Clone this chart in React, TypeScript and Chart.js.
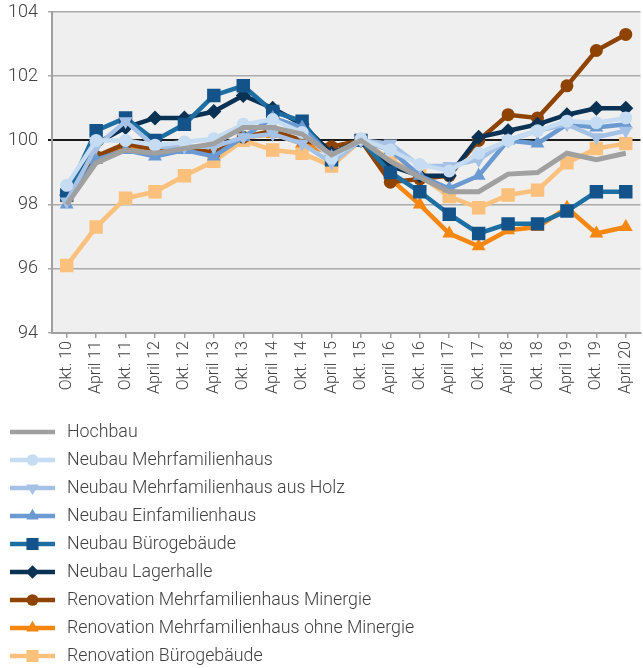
import React, { useEffect, useRef } from "react";
import { Chart, registerables } from "chart.js";
import { drawPoint } from "chart.js/helpers";

Chart.register(...registerables);

const categories = [
  "Okt. 10", "April 11", "Okt. 11", "April 12", "Okt. 12", "April 13", "Okt. 13",
  "April 14", "Okt. 14", "April 15", "Okt. 15", "April 16", "Okt. 16", "April 17",
  "Okt. 17", "April 18", "Okt. 18", "April 19", "Okt. 19", "April 20",
];

const hochbau = [98.0, 99.3, 99.7, 99.6, 99.75, 99.9, 100.4, 100.4, 100.2, 99.55, 100.0, 99.35, 98.85, 98.4, 98.4, 98.95, 99.0, 99.6, 99.4, 99.6];
const neubauMfh = [98.6, 100.0, 100.0, 99.85, 99.95, 100.05, 100.5, 100.65, 100.25, 99.45, 100.05, 99.7, 99.25, 99.05, 99.6, 100.0, 100.3, 100.6, 100.55, 100.7];
const neubauMfhHolz = [98.1, 99.8, 100.6, 99.8, 99.8, 99.8, 100.1, 100.2, 99.9, 99.3, 100.0, 99.9, 99.2, 99.2, 99.4, 100.0, 100.3, 100.5, 100.1, 100.3];
const neubauEfh = [98.0, 99.4, 99.7, 99.5, 99.7, 99.5, 100.1, 100.7, 100.4, 99.5, 100.0, 99.7, 98.9, 98.5, 98.9, 100.0, 99.9, 100.5, 100.4, 100.5];
const neubauBuero = [98.3, 100.3, 100.7, 100.0, 100.5, 101.4, 101.7, 100.9, 100.6, 99.4, 100.0, 99.0, 98.4, 97.7, 97.1, 97.4, 97.4, 97.8, 98.4, 98.4];
const neubauLager = [98.3, 99.9, 100.4, 100.7, 100.7, 100.9, 101.4, 101.0, 100.5, 99.6, 100.0, 99.2, 98.9, 98.9, 100.1, 100.3, 100.5, 100.8, 101.0, 101.0];
const renMinergie = [98.3, 99.5, 99.9, 99.7, 99.8, 99.6, 100.1, 100.3, 100.0, 99.8, 100.0, 98.7, 98.8, 98.9, 100.0, 100.8, 100.7, 101.7, 102.8, 103.3];
const renOhneMinergie = [98.2, 99.4, 99.8, 99.7, 99.8, 99.6, 100.1, 100.2, 99.9, 99.6, 100.0, 98.8, 98.0, 97.1, 96.7, 97.2, 97.3, 97.9, 97.1, 97.3];
const renBuero = [96.1, 97.3, 98.2, 98.4, 98.9, 99.35, 100.0, 99.7, 99.6, 99.2, 100.0, 99.4, 98.9, 98.25, 97.9, 98.3, 98.45, 99.3, 99.75, 99.9];

const yTicks = [94, 96, 98, 100, 102, 104];

const seriesNames = [
  "Hochbau",
  "Neubau Mehrfamilienhaus",
  "Neubau Mehrfamilienhaus aus Holz",
  "Neubau Einfamilienhaus",
  "Neubau Bürogebäude",
  "Neubau Lagerhalle",
  "Renovation Mehrfamilienhaus Minergie",
  "Renovation Mehrfamilienhaus ohne Minergie",
  "Renovation Bürogebäude",
];

const FONT = "Roboto, 'Noto Sans', sans-serif";
const TEXT = "#404040";

function mk(label: string, data: number[], line: string, point: string, style: any, radius: number, rotation = 0) {
  return {
    label,
    data,
    borderColor: line,
    backgroundColor: point,
    pointBackgroundColor: point,
    pointBorderColor: point,
    pointBorderWidth: 0,
    borderWidth: 4.5,
    pointStyle: style,
    pointRadius: radius,
    pointRotation: rotation,
    tension: 0,
  };
}

const bgPlugin = {
  id: "plotBg",
  beforeDraw(chart: any) {
    const { ctx, chartArea } = chart;
    ctx.save();
    ctx.fillStyle = "#EFEFEF";
    ctx.fillRect(chartArea.left, chartArea.top, chartArea.right - chartArea.left, chartArea.bottom - chartArea.top);
    ctx.restore();
  },
};

const legendPlugin = {
  id: "customLegend",
  afterDraw(chart: any) {
    const { ctx } = chart;
    ctx.save();
    chart.data.datasets.forEach((ds: any, i: number) => {
      const y = 432 + i * 28;
      ctx.strokeStyle = ds.borderColor;
      ctx.lineWidth = 4.5;
      ctx.beginPath();
      ctx.moveTo(10, y);
      ctx.lineTo(55, y);
      ctx.stroke();
      if (ds.pointRadius > 0) {
        ctx.fillStyle = ds.pointBackgroundColor;
        ctx.strokeStyle = ds.pointBorderColor;
        drawPoint(ctx, { pointStyle: ds.pointStyle, rotation: ds.pointRotation, radius: ds.pointRadius * 0.9, borderWidth: 0 }, 32.5, y);
      }
      ctx.fillStyle = TEXT;
      ctx.font = `300 17.8px ${FONT}`;
      ctx.textBaseline = "middle";
      ctx.textAlign = "left";
      ctx.fillText(ds.label, 67, y + 1);
    });
    ctx.restore();
  },
};

export default function App() {
  const ref = useRef<HTMLCanvasElement>(null);
  useEffect(() => {
    if (!ref.current) return;
    const datasets = [
      { ...mk(seriesNames[0], hochbau, "#A0A0A0", "#A0A0A0", "circle", 0), borderWidth: 5 },
      mk(seriesNames[1], neubauMfh, "#C5DCF2", "#C5DCF2", "circle", 6.5),
      mk(seriesNames[2], neubauMfhHolz, "#A6C1E6", "#A6C1E6", "triangle", 8, 180),
      mk(seriesNames[3], neubauEfh, "#6B99D1", "#6B99D1", "triangle", 8),
      mk(seriesNames[4], neubauBuero, "#1D6FA3", "#135389", "rect", 9.5),
      mk(seriesNames[5], neubauLager, "#0A3254", "#0A3254", "rectRot", 7.5),
      mk(seriesNames[6], renMinergie, "#8E4300", "#8E4300", "circle", 6.5),
      mk(seriesNames[7], renOhneMinergie, "#F5860F", "#F5860F", "triangle", 8),
      mk(seriesNames[8], renBuero, "#FBC07C", "#FBC07C", "rect", 9.5),
    ];
    const chart = new Chart(ref.current, {
      type: "line",
      data: { labels: categories, datasets },
      plugins: [bgPlugin, legendPlugin],
      options: {
        animation: false,
        responsive: true,
        maintainAspectRatio: false,
        layout: { padding: { top: 12, right: 2, left: 0, bottom: 248 } },
        plugins: { legend: { display: false }, tooltip: { enabled: false } },
        scales: {
          x: {
            type: "category",
            offset: true,
            grid: {
              offset: false,
              drawOnChartArea: false,
              drawTicks: true,
              tickLength: 5,
              color: "#A0A0A0",
              lineWidth: 1.5,
            },
            border: { color: "#A0A0A0", width: 2 },
            ticks: {
              autoSkip: false,
              minRotation: 90,
              maxRotation: 90,
              padding: 3,
              color: TEXT,
              font: { family: FONT, size: 16, weight: "300" },
            },
            afterFit(scale: any) {
              scale.height = 87;
            },
          },
          y: {
            min: 94,
            max: 104,
            afterBuildTicks(scale: any) {
              scale.ticks = yTicks.map((v) => ({ value: v }));
            },
            grid: {
              color: (c: any) => (c.tick && c.tick.value === 100 ? "#1A1A1A" : "#ABABAB"),
              lineWidth: (c: any) => (c.tick && c.tick.value === 100 ? 2 : 1.5),
              tickLength: 4,
            },
            border: { color: "#A0A0A0", width: 2 },
            ticks: {
              padding: 10,
              color: TEXT,
              font: { family: FONT, size: 18, weight: "300" },
            },
            afterFit(scale: any) {
              scale.width = 52;
              scale.paddingTop = 0;
              scale.paddingBottom = 0;
            },
          },
        },
      },
    });
    return () => chart.destroy();
  }, []);
  return (
    <div style={{ position: "fixed", left: 0, top: 0, width: 643, height: 668, overflow: "hidden", background: "#fff" }}>
      <div style={{ position: "relative", width: 650, height: 668 }}>
        <canvas ref={ref} />
      </div>
    </div>
  );
}
